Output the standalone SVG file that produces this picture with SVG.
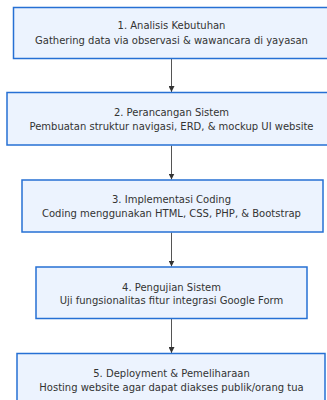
<svg xmlns="http://www.w3.org/2000/svg" width="327" height="400" viewBox="0 0 327 400">
<defs>
<style>
.box{fill:#ECF3FE;stroke:#2670D4;stroke-width:1.5}
.t{font-family:"DejaVu Sans",Verdana,sans-serif;font-size:10px;fill:#333;text-anchor:middle}
.c{stroke:#555;stroke-width:1;fill:none;marker-end:url(#arr)}
</style>
<marker id="arr" viewBox="0 0 10 10" refX="10" refY="5" markerWidth="6" markerHeight="6" markerUnits="userSpaceOnUse" orient="auto">
<path d="M0,0L10,5L0,10z" fill="#333"/>
</marker>
</defs>
<rect width="327" height="400" fill="#fff"/>
<g id="connectors">
<line class="c" x1="171.5" y1="58.5" x2="171.5" y2="92"/>
<line class="c" x1="171.5" y1="145.5" x2="171.5" y2="179.5"/>
<line class="c" x1="171.5" y1="232.5" x2="171.5" y2="266.5"/>
<line class="c" x1="171.5" y1="319" x2="171.5" y2="353"/>
</g>
<g id="n1">
<rect class="box" x="13.5" y="7.5" width="316" height="51"/>
<text class="t" x="171.5" y="29.3">1. Analisis Kebutuhan</text>
<text class="t" x="171.5" y="44.3">Gathering data via observasi &amp; wawancara di yayasan</text>
</g>
<g id="n2">
<rect class="box" x="7" y="92.5" width="329" height="52.5"/>
<text class="t" x="171.5" y="116">2. Perancangan Sistem</text>
<text class="t" x="171.5" y="130.3">Pembuatan struktur navigasi, ERD, &amp; mockup UI website</text>
</g>
<g id="n3">
<rect class="box" x="22" y="180" width="301" height="52"/>
<text class="t" x="171.5" y="203.3">3. Implementasi Coding</text>
<text class="t" x="171.5" y="217.3">Coding menggunakan HTML, CSS, PHP, &amp; Bootstrap</text>
</g>
<g id="n4">
<rect class="box" x="36" y="267" width="271" height="51.5"/>
<text class="t" x="171.5" y="290.5">4. Pengujian Sistem</text>
<text class="t" x="171.5" y="304">Uji fungsionalitas fitur integrasi Google Form</text>
</g>
<g id="n5">
<rect class="box" x="17" y="353.5" width="308" height="52"/>
<text class="t" x="171.5" y="377.3">5. Deployment &amp; Pemeliharaan</text>
<text class="t" x="171.5" y="391">Hosting website agar dapat diakses publik/orang tua</text>
</g>
</svg>
